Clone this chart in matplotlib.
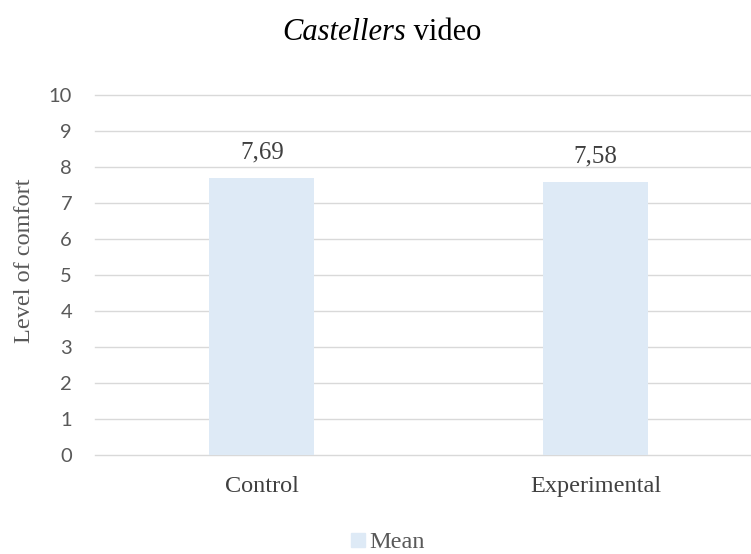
import matplotlib
matplotlib.use("Agg")
import matplotlib.pyplot as plt
from matplotlib.patches import Patch

categories = ["Control", "Experimental"]
means = [7.69, 7.58]
mean_labels = ["7,69", "7,58"]
yticks = list(range(0, 11))

W, H = 751, 554
fig = plt.figure(figsize=(W / 100, H / 100), dpi=100)
ax = fig.add_axes([95 / W, 1 - 455 / H, (762.5 - 95) / W, (455 - 95) / H])

serif = ["Liberation Serif", "DejaVu Serif"]
bar_color = "#DEEAF6"
grid_color = "#D9D9D9"
text_gray = "#595959"

x = list(range(len(categories)))
ax.bar(x, means, width=0.314, color=bar_color, zorder=2)
ax.set_xlim(-0.5, 1.5)
ax.set_ylim(0, 10)
ax.set_yticks(yticks)
ax.set_yticklabels([str(t) for t in yticks], family="Lato", fontsize=14.5, color=text_gray)
ax.set_xticks(x)
ax.set_xticklabels(categories, family=serif, fontsize=17.5, color="#404040")
ax.tick_params(axis="both", length=0)
ax.tick_params(axis="y", pad=16.5)
ax.tick_params(axis="x", pad=15)
for t in yticks:
    ax.axhline(t, color=grid_color, lw=1.0, zorder=1, clip_on=False)
for s in ax.spines.values():
    s.set_visible(False)

for xi, m, lab in zip(x, means, mean_labels):
    ax.text(xi, m + 0.4, lab, ha="center", va="bottom", family=serif, fontsize=18, color="#404040")

ax.set_ylabel("Level of comfort", family=serif, fontsize=17.5, color=text_gray)
ax.yaxis.set_label_coords((35 - 95) / 667.5, (455 - 261) / 360)

# Title with mixed italic/regular pieces
renderer = fig.canvas.get_renderer()
ta = fig.text(0, 0, "Castellers", family=serif, style="italic", fontsize=22)
tb = fig.text(0, 0, " video", family=serif, fontsize=22)
wa = ta.get_window_extent(renderer).width
wb = tb.get_window_extent(renderer).width
x0 = (W / 2 - (wa + wb) / 2 + 6) / W
ta.set_position((x0, 1 - 33 / H)); ta.set_va("center")
tb.set_position((x0 + wa / W, 1 - 33 / H)); tb.set_va("center")

leg = fig.legend(handles=[Patch(color=bar_color, label="Mean")], loc="center",
                 bbox_to_anchor=(388 / W, 1 - 543 / H), frameon=False,
                 prop={"family": serif, "size": 17.5}, handlelength=0.55, handleheight=0.55,
                 handletextpad=0.2)
for t in leg.get_texts():
    t.set_color(text_gray)

fig.savefig("out.png", dpi=100)
